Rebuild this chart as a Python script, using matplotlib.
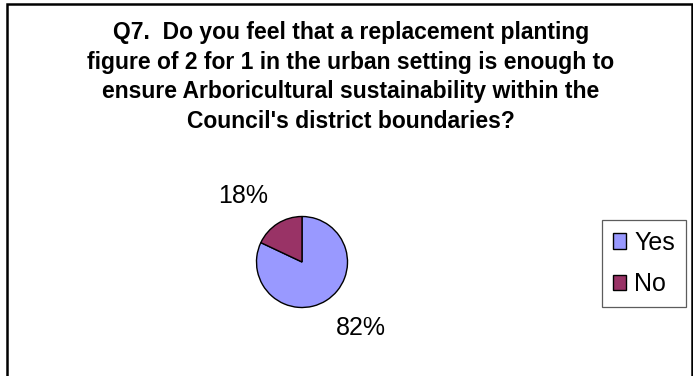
import matplotlib
matplotlib.use("Agg")
import matplotlib.pyplot as plt
from matplotlib.patches import Rectangle

# Survey answers for Q7
labels = ["Yes", "No"]
shares = [82, 18]
colors = ["#9999FF", "#993366"]

title = ("Q7.  Do you feel that a replacement planting\n"
         "figure of 2 for 1 in the urban setting is enough to\n"
         "ensure Arboricultural sustainability within the\n"
         "Council's district boundaries?")

W, H = 693, 376
fig = plt.figure(figsize=(W / 100, H / 100), dpi=100)
plt.rcParams["font.family"] = ["Liberation Sans", "DejaVu Sans"]

# outer chart frame
fig.patches.append(Rectangle((7 / W, -0.05), (691.5 - 7) / W, 1.05 - 4 / H,
                             transform=fig.transFigure, fill=False,
                             edgecolor="black", linewidth=1.8))

fig.text(351 / W, 1 - 21 / H, title, ha="center", va="top",
         family=["Liberation Sans Narrow", "Liberation Sans"],
         fontsize=16.5, fontweight="bold", linespacing=1.37)

# pie axes, centred at (302, 262) px with radius ~45.5 px
r = 45.5
cx, cy = 302, 262
ax = fig.add_axes([(cx - r) / W, (H - cy - r) / H, 2 * r / W, 2 * r / H])
wedges, _, autotexts = ax.pie(shares, colors=colors, startangle=90,
                              counterclock=False, autopct="%1.0f%%",
                              pctdistance=1.4, radius=1,
                              wedgeprops=dict(edgecolor="black", linewidth=1),
                              textprops=dict(fontsize=18))
for t in autotexts:
    x, y = t.get_position()
    t.set_ha("left" if x > 0 else "right")
    t.set_va("bottom" if y > 0 else "top")
ax.set_xlim(-1, 1)
ax.set_ylim(-1, 1)
ax.set_aspect("equal")
ax.axis("off")

leg = fig.legend(wedges, labels, loc="upper left",
                 bbox_to_anchor=(602 / W, 1 - 220 / H), borderaxespad=0,
                 fontsize=18, frameon=True, fancybox=False, shadow=False,
                 handlelength=0.52, handleheight=0.6, handletextpad=0.36,
                 borderpad=0.42, labelspacing=0.71)
leg.get_frame().set_edgecolor("#333333")
leg.get_frame().set_linewidth(0.9)

fig.savefig("out.png", dpi=100)
